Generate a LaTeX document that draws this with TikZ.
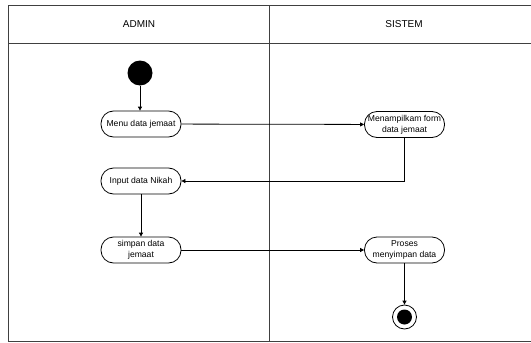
\documentclass[tikz,border=0pt]{standalone}
\usepackage{fontspec}
\setmainfont{Liberation Sans}
\usetikzlibrary{arrows.meta}
\begin{document}
\begin{tikzpicture}[x=1pt,y=-1pt,
  act/.style={draw, line width=0.8pt, rounded corners=12.5pt, minimum width=80pt, minimum height=26pt,
    inner sep=1pt, align=center, font=\fontsize{8.6}{11}\selectfont},
  flow/.style={draw, line width=0.8pt, -{Triangle[length=4pt,width=4pt]}},
  frame/.style={draw=black!75, line width=1pt},
  lane/.style={font=\fontsize{10}{12}\selectfont}]
\useasboundingbox (0,0) rectangle (531,343);
\fill[white] (0,0) rectangle (531,343);
% frame
\draw[frame] (540,5.5) -- (8,5.5) -- (8,341.5) -- (540,341.5);
\draw[frame] (8,43) -- (540,43);
\draw[frame] (269.5,5.5) -- (269.5,341.5);
\node[lane] (hA) at (139,24.5) {ADMIN};
\node[lane] (hS) at (404,24.5) {SISTEM};
% nodes
\node[circle, fill=black, minimum size=25pt, inner sep=0pt] (start) at (140,73) {};
\node[act] (menu) at (141,124) {Menu data jemaat};
\node[act] (tampil) at (404.5,124.5) {Menampilkam form\\data jemaat};
\node[act] (input) at (141,181) {Input data Nikah};
\node[act] (simpan) at (141,250) {simpan data\\jemaat};
\node[act] (proses) at (404.5,250) {Proses\\menyimpan data};
\node[circle, draw, line width=0.8pt, minimum size=24pt, inner sep=0pt] (end) at (404.5,317) {};
\node[circle, fill=black, minimum size=15pt, inner sep=0pt] (endin) at (end.center) {};
% connectors
\draw[flow] (start) -- (start |- menu.north);
\draw[flow] (menu) -- (tampil);
\draw[flow] (tampil.south) |- (input.east);
\draw[flow] (input) -- (simpan);
\draw[flow] (simpan) -- (proses);
\draw[flow] (proses) -- (end);
\end{tikzpicture}
\end{document}
